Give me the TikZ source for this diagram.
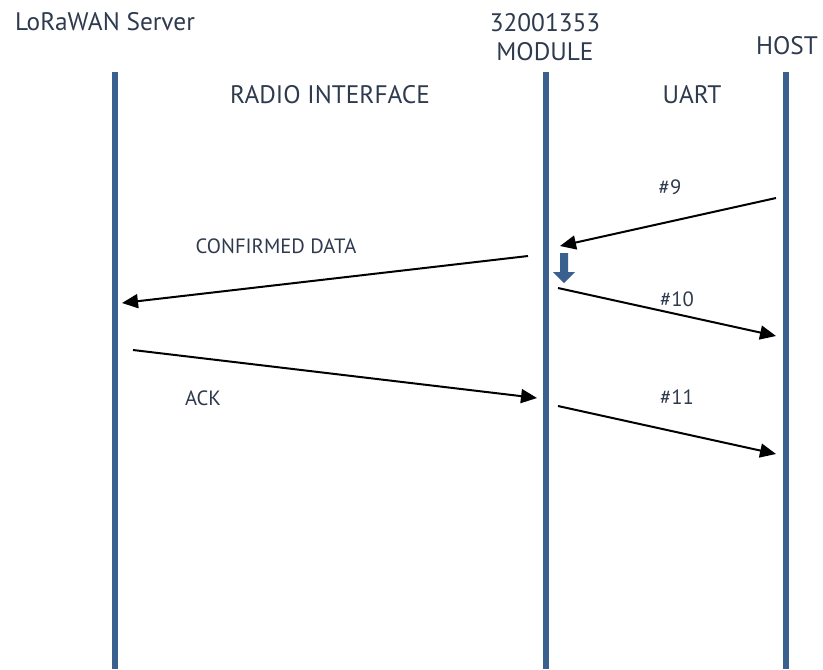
\documentclass[tikz,border=0pt]{standalone}
\usepackage{fontspec}
\setmainfont{PT Sans}
\usetikzlibrary{arrows.meta}
\definecolor{lifecol}{HTML}{3A6090}
\definecolor{txtcol}{HTML}{2E3A4E}
\begin{document}
\begin{tikzpicture}[x=0.75pt,y=-0.75pt,
  lifeline/.style={draw=lifecol,line width=5pt},
  msg/.style={draw=black,line width=1.5pt,-{Triangle[length=12pt,width=10.5pt]}},
  big/.style={text=txtcol,font=\fontsize{19}{21.5}\selectfont,inner sep=0pt,align=center},
  small/.style={text=txtcol,font=\fontsize{15.5}{18}\selectfont,inner sep=0pt}]
\useasboundingbox (0,0) rectangle (823,669);
% lifelines
\coordinate (srvT) at (115,72);  \coordinate (srvB) at (115,669);
\coordinate (modT) at (546,72);  \coordinate (modB) at (546,669);
\coordinate (hstT) at (786,72);  \coordinate (hstB) at (786,669);
\draw[lifeline] (srvT) -- (srvB);
\draw[lifeline] (modT) -- (modB);
\draw[lifeline] (hstT) -- (hstB);
% headers
\node[big] (srv) at (105,22) {LoRaWAN Server};
\node[big] (mod) at (545,37) {32001353\\MODULE};
\node[big] (hst) at (787,46) {HOST};
\node[big] (radio) at (330,95) {RADIO INTERFACE};
\node[big] (uart) at (692,95) {UART};
% message endpoints
\coordinate (m9s) at (776,198);  \coordinate (m9e) at (560,246);
\coordinate (cds) at (528,256);  \coordinate (cde) at (122,303);
\coordinate (m10s) at (558,288); \coordinate (m10e) at (776,336);
\coordinate (acks) at (133,350); \coordinate (acke) at (537,398);
\coordinate (m11s) at (558,406); \coordinate (m11e) at (776,454);
\draw[msg] (m9s) -- (m9e);
\draw[msg] (cds) -- (cde);
\draw[msg] (m10s) -- (m10e);
\draw[msg] (acks) -- (acke);
\draw[msg] (m11s) -- (m11e);
% labels
\node[small] (l9) at (670,187) {\#9};
\node[small] (lcd) at (276,246) {CONFIRMED DATA};
\node[small] (l10) at (677,299) {\#10};
\node[small] (lack) at (203,398) {ACK};
\node[small] (l11) at (677,397) {\#11};
% block arrow (processing)
\fill[lifecol] (560,253) -- (568,253) -- (568,272) -- (575,272) -- (564,283) -- (553,272) -- (560,272) -- cycle;
\end{tikzpicture}
\end{document}
